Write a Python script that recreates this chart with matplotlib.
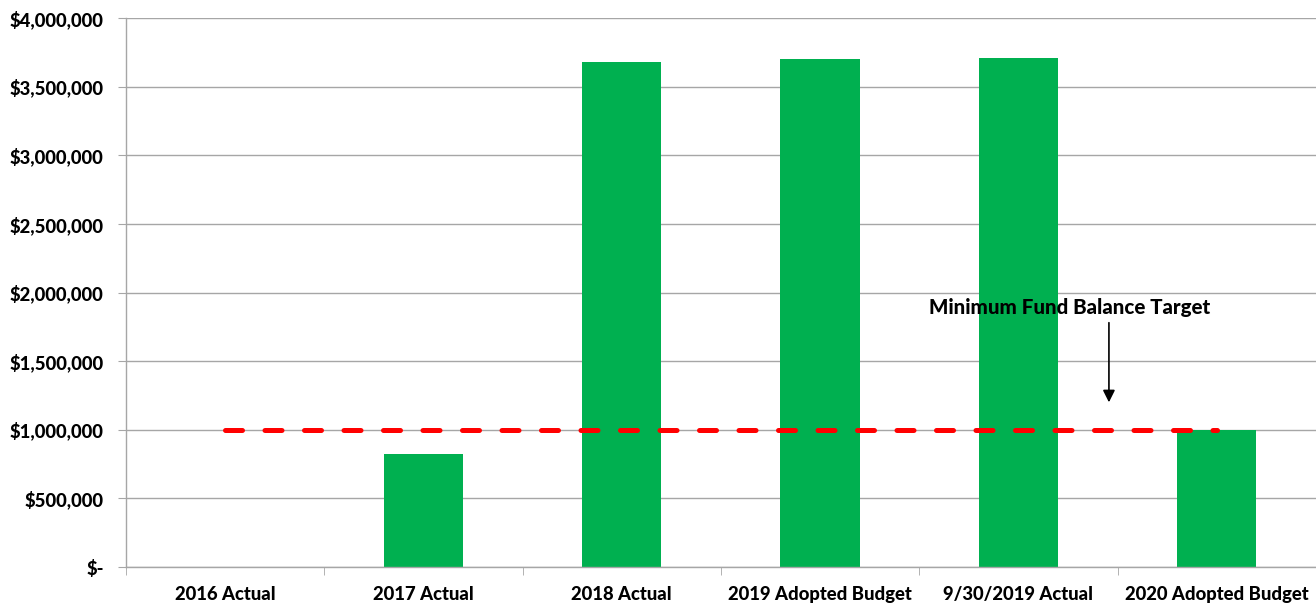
import matplotlib
matplotlib.use("Agg")
from matplotlib import pyplot as plt
from matplotlib.ticker import FuncFormatter, FixedLocator
import numpy as np

plt.rcParams['font.family'] = ['Lato', 'DejaVu Sans']

categories = ["2016 Actual", "2017 Actual", "2018 Actual",
              "2019 Adopted Budget", "9/30/2019 Actual", "2020 Adopted Budget"]
balances = [0, 823000, 3680000, 3702000, 3707000, 1000000]
target = 1000000
target_label = "Minimum Fund Balance Target"

W = "black"  # heaviest weight

fig = plt.figure(figsize=(13.16, 6.08), dpi=100)
ax = fig.add_axes([0.0957, 0.0674, 0.9043, 0.903])

x = np.arange(len(categories))
ax.bar(x, balances, width=0.4, color="#00B050", zorder=2)

ax.plot([x[0], x[-1]], [target, target], color="#FF0000", linewidth=3.6,
        linestyle=(0, (3.4, 4.5)), dash_capstyle="round", zorder=3)

ax.annotate("", xy=(4.456, 1200000), xytext=(4.456, 1780000),
            arrowprops=dict(arrowstyle="-|>", color="black", lw=1.2, mutation_scale=18,
                            shrinkA=0, shrinkB=0),
            zorder=4)
ax.text(4.26, 1890000, target_label, ha="center", va="center",
        fontsize=14.8, fontweight=W, color="black")

ax.set_xlim(-0.5, len(categories) - 0.5)
ax.set_ylim(0, 4000000)
ax.yaxis.set_major_locator(FixedLocator(np.arange(0, 4000001, 500000)))

def money(v, pos):
    if v == 0:
        return "$-"
    return "${:,.0f}".format(v)

ax.yaxis.set_major_formatter(FuncFormatter(money))
ax.set_xticks(x)
ax.set_xticklabels(categories)
ax.set_xticks(np.arange(-0.5, len(categories)), minor=True)

ax.grid(axis="y", color="#A6A6A6", linewidth=1.0, zorder=0)
ax.set_axisbelow(True)
for side in ["top", "right"]:
    ax.spines[side].set_visible(False)
for side in ["left", "bottom"]:
    ax.spines[side].set_color("#A6A6A6")
    ax.spines[side].set_linewidth(1.0)

ax.tick_params(axis="y", length=6, color="#A6A6A6", labelsize=13.3, pad=10)
ax.tick_params(axis="x", which="major", length=0, labelsize=13.3, pad=14)
ax.tick_params(axis="x", which="minor", length=6, color="#A6A6A6")
for lbl in ax.get_xticklabels() + ax.get_yticklabels():
    lbl.set_fontweight(W)

fig.savefig("out.png", dpi=100)
